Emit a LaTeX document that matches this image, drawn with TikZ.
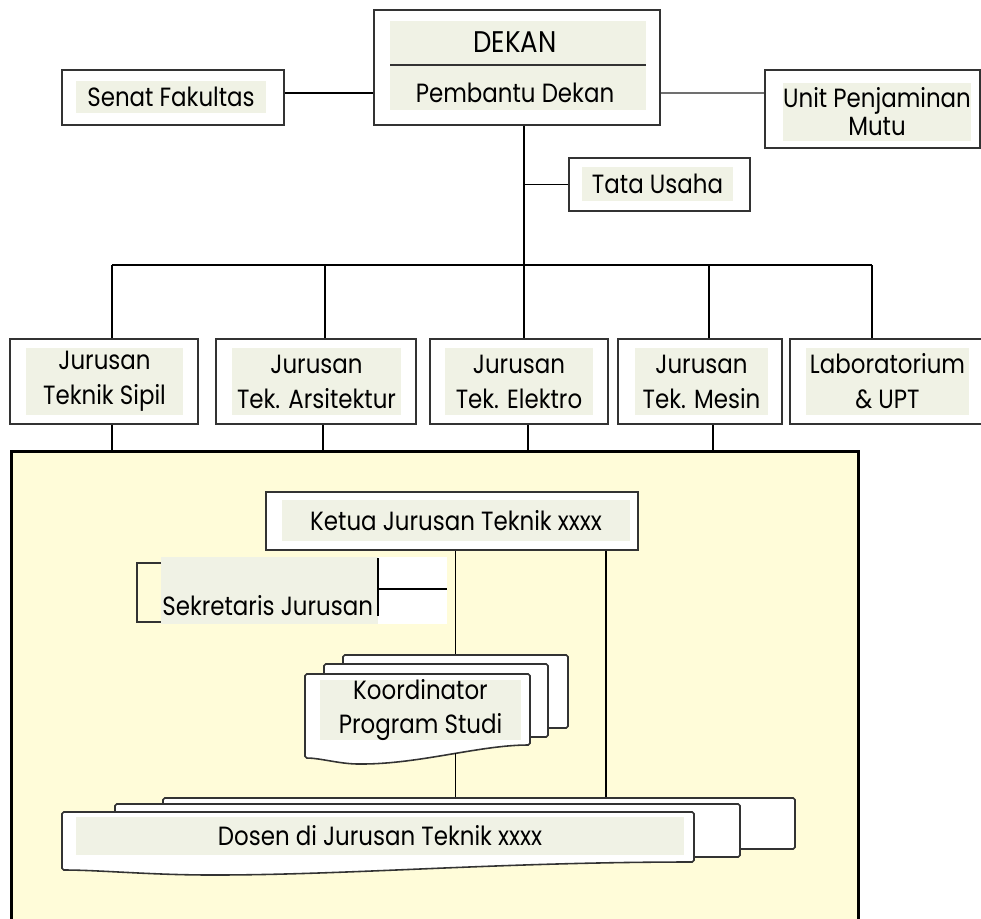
\documentclass[tikz,border=0pt]{standalone}
\usepackage{fontspec}
\setmainfont{Poppins}[FakeStretch=0.87]
\usetikzlibrary{calc}

\definecolor{lgreen}{rgb}{0.94,0.95,0.90}
\definecolor{lyellow}{rgb}{1.00,0.99,0.85}
\definecolor{dgray}{rgb}{0.20,0.20,0.20}

\begin{document}
\begin{tikzpicture}[y=-1cm,
    box/.style={draw=dgray, line width=1.1pt, fill=white, inner sep=0pt},
    lbl/.style={fill=lgreen, inner sep=0pt, align=center, font=\fontsize{15}{20}\selectfont},
    txt/.style={inner sep=0pt, align=center, font=\fontsize{15}{20}\selectfont},
    link/.style={line width=0.9pt},
    sheet/.style={draw=dgray, line width=0.9pt, fill=white, rounded corners=1pt, inner sep=0pt},
    panel/.style={draw=black, line width=1.7pt, fill=lyellow, inner sep=0pt}]

    \useasboundingbox (0,0) rectangle (19.62,18.38);

    % top level
    \node[box, minimum width=5.72cm, minimum height=2.30cm] (dekan) at (10.34,1.35) {};
    \fill[lgreen] (7.80,0.42) rectangle (12.92,2.20);
    \draw[dgray, line width=0.9pt] (7.80,1.30) -- (12.92,1.30);
    \node[txt, font=\fontsize{17}{20}\selectfont] (dekanlbl) at (10.30,0.84) {DEKAN};
    \node[txt] (pdlbl) at (10.30,1.86) {Pembantu Dekan};

    \node[box, minimum width=4.44cm, minimum height=1.10cm] (senat) at (3.46,1.95) {};
    \node[lbl, minimum width=3.80cm, minimum height=0.64cm] at (3.42,1.94) {Senat Fakultas};

    \node[box, minimum width=4.30cm, minimum height=1.56cm] (unit) at (17.45,2.18) {};
    \node[lbl, minimum width=3.60cm, minimum height=1.16cm] at (17.54,2.24) {Unit Penjaminan\\[-4pt]Mutu};

    \node[box, minimum width=3.62cm, minimum height=1.06cm] (tata) at (13.19,3.69) {};
    \node[lbl, minimum width=3.02cm, minimum height=0.68cm] at (13.15,3.68) {Tata Usaha};

    \draw[link] (senat.east |- pdlbl) -- (dekan.west |- pdlbl);
    \draw[link, dgray!70, line width=0.7pt] (dekan.east |- pdlbl) -- (unit.west |- pdlbl);

    \coordinate (trunk) at (10.48,5.30);
    \draw[link] (trunk |- dekan.south) -- (trunk);
    \draw[link] (tata.west) -- (tata.west -| trunk);

    % departments
    \foreach \i/\cx/\w/\fx/\fw/\t in {%
        1/2.08/3.76/2.09/3.14/{Jurusan\\Teknik Sipil},
        2/6.32/4.00/6.33/3.38/{Jurusan\\Tek. Arsitektur},
        3/10.38/3.56/10.38/2.96/{Jurusan\\Tek. Elektro},
        4/14.00/3.28/14.03/2.66/{Jurusan\\Tek. Mesin},
        5/17.72/3.84/17.75/3.26/{Laboratorium\\\& UPT}}{
      \node[box, minimum width=\w cm, minimum height=1.70cm] (d\i) at (\cx,7.63) {};
      \node[lbl, minimum width=\fw cm, minimum height=1.34cm] at (\fx,7.63) {\t};
    }

    \foreach \i/\x in {1/2.24,2/6.50,3/10.48,4/14.18,5/17.44}{
      \coordinate (b\i) at (\x,5.30);
      \draw[link] (b\i) -- (b\i |- d\i.north);
    }
    \draw[link] (b1) -- (b5);

    % jurusan panel
    \node[panel, anchor=north west, minimum width=16.94cm, minimum height=9.8cm] (jur) at (0.20,9.00) {};

    \foreach \i/\x in {1/2.24,2/6.46,3/10.56,4/14.26}{
      \coordinate (c\i) at (\x,9.00);
      \draw[link] (c\i |- d\i.south) -- (c\i);
    }

    \node[box, minimum width=7.44cm, minimum height=1.16cm] (ketua) at (9.04,10.42) {};
    \node[lbl, minimum width=6.96cm, minimum height=0.82cm] at (9.12,10.41) {Ketua Jurusan Teknik xxxx};

    % sekretaris
    \fill[lgreen] (3.22,11.14) rectangle (7.56,12.48);
    \fill[white] (7.56,11.14) rectangle (8.94,12.48);
    \draw[dgray, line width=1.1pt] (3.22,11.26) -- (2.74,11.26) -- (2.74,12.44) -- (3.22,12.44);
    \draw[link] (7.56,11.16) -- (7.56,12.32) (7.56,11.78) -- (8.94,11.78);
    \node[txt, anchor=base west] (sekr) at (3.24,12.30) {Sekretaris Jurusan};

    % koordinator stack
    \node[sheet, minimum width=4.50cm, minimum height=1.46cm] (koordC) at (9.11,13.83) {};
    \node[sheet, minimum width=4.48cm, minimum height=1.46cm] (koordB) at (8.72,14.01) {};
    \draw[sheet] (6.10,15.16) -- (6.10,13.48) -- (10.60,13.48) -- (10.60,14.90)
      .. controls (9.60,14.90) and (8.40,15.28) .. (7.20,15.28)
      .. controls (6.80,15.28) and (6.40,15.16) .. (6.10,15.16) -- cycle;
    \node[lbl, minimum width=4.02cm, minimum height=1.16cm] (koord) at (8.41,14.20) {Koordinator\\[-1pt]Program Studi};

    % dosen stack
    \node[sheet, minimum width=12.64cm, minimum height=1.02cm] (dosenC) at (9.58,16.47) {};
    \node[sheet, minimum width=12.50cm, minimum height=1.06cm] (dosenB) at (8.55,16.61) {};
    \draw[sheet] (1.24,17.40) -- (1.24,16.24) -- (13.88,16.24) -- (13.88,17.24)
      .. controls (10.00,17.24) and (7.00,17.50) .. (4.26,17.50)
      .. controls (3.00,17.50) and (2.00,17.40) .. (1.24,17.40) -- cycle;
    \node[lbl, minimum width=12.16cm, minimum height=0.76cm] (dosen) at (7.60,16.72) {Dosen di Jurusan Teknik xxxx};

    \coordinate (kbot) at (9.11,15.06);
    \coordinate (k2) at ($(ketua.south)+(3.08,0)$);
    \draw[link] (koordC.north |- ketua.south) -- (koordC.north);
    \draw[link] (kbot) -- (kbot |- dosenC.north);
    \draw[link] (k2) -- (k2 |- dosenC.north);

  \end{tikzpicture}
\end{document}
